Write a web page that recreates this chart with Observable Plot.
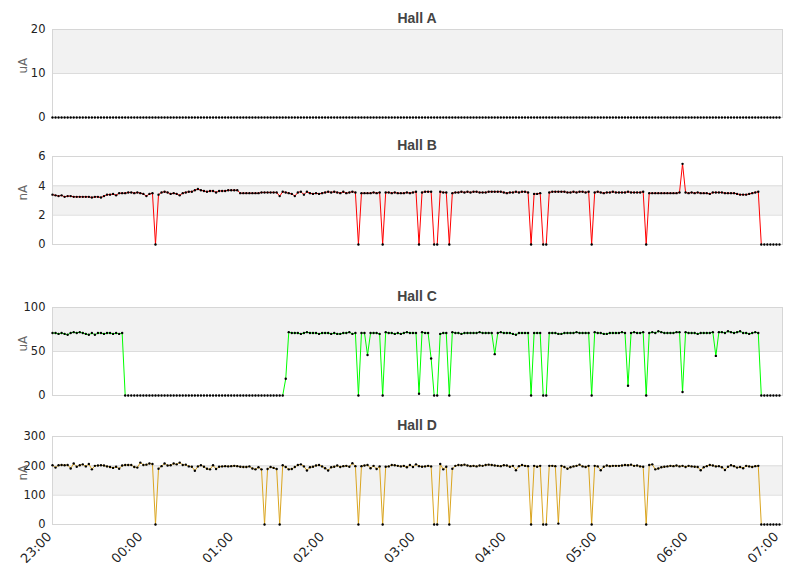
<!DOCTYPE html>
<html>
<head>
<meta charset="utf-8">
<script src="https://cdn.jsdelivr.net/npm/d3@7"></script>
<script src="https://cdn.jsdelivr.net/npm/@observablehq/plot@0.6"></script>
<style>
  body { margin: 0; background: #fff; }
  #chart { position: relative; width: 811px; height: 578px; font-family: "DejaVu Sans", sans-serif; }
  .panel { position: absolute; left: 0; }
  .title { position: absolute; left: 52px; width: 730px; text-align: center; line-height: 16px;
           font: bold 14px "Liberation Sans", Arial, sans-serif; color: #444; z-index: 2; }
</style>
</head>
<body>
<div id="chart"></div>
<script>
// Sampling: one reading every 2 minutes starting 23:00
const startLabel = "23:00";
const stepMinutes = 2;
const xTickLabels = ["23:00","00:00","01:00","02:00","03:00","04:00","05:00","06:00","07:00"];

const panelNames = ["Hall A", "Hall B", "Hall C", "Hall D"];
const panelUnits = ["uA", "nA", "uA", "nA"];
const panelColors = ["#4572a7", "#ff0000", "#00ff00", "#daa520"];
const yTicksA = [0, 10, 20];
const yTicksB = [0, 2, 4, 6];
const yTicksC = [0, 50, 100];
const yTicksD = [0, 100, 200, 300];

const hallA = [
0,0,0,0,0,0,0,0,0,0, 0,0,0,0,0,0,0,0,0,0, 0,0,0,0,0,0,0,0,0,0, 0,0,0,0,0,0,0,0,0,0,
0,0,0,0,0,0,0,0,0,0, 0,0,0,0,0,0,0,0,0,0, 0,0,0,0,0,0,0,0,0,0, 0,0,0,0,0,0,0,0,0,0,
0,0,0,0,0,0,0,0,0,0, 0,0,0,0,0,0,0,0,0,0, 0,0,0,0,0,0,0,0,0,0, 0,0,0,0,0,0,0,0,0,0,
0,0,0,0,0,0,0,0,0,0, 0,0,0,0,0,0,0,0,0,0, 0,0,0,0,0,0,0,0,0,0, 0,0,0,0,0,0,0,0,0,0,
0,0,0,0,0,0,0,0,0,0, 0,0,0,0,0,0,0,0,0,0, 0,0,0,0,0,0,0,0,0,0, 0,0,0,0,0,0,0,0,0,0,
0,0,0,0,0,0,0,0,0,0, 0,0,0,0,0,0,0,0,0,0, 0,0,0,0,0,0,0,0,0,0, 0,0,0,0,0,0,0,0,0,0,
0
];

const hallB = [
3.4,3.35,3.3,3.35,3.25,3.3,3.3,3.25,3.25,3.25,3.25,3.25,3.25,3.2,3.25,3.25,3.2,3.3,3.4,3.4,3.45,3.35,3.5,3.5,3.5,3.55,3.55,3.5,3.55,3.5,3.45,3.3,3.45,3.5,
0,
3.4,3.55,3.6,3.55,3.45,3.5,3.45,3.35,3.5,3.55,
3.6,3.6,3.7,3.78,3.7,3.65,3.6,3.65,3.65,3.55,
3.65,3.65,3.65,3.7,3.7,3.7,3.7,3.5,3.5,3.5,
3.5,3.5,3.5,3.5,3.55,3.55,3.55,3.55,3.55,3.55,
3.3,3.6,3.55,3.5,3.45,3.3,3.55,3.6,3.4,3.6,
3.5,3.45,3.5,3.45,3.5,3.55,3.6,3.55,3.6,3.55,
3.5,3.6,3.5,3.55,3.6,3.55,
0,
3.5,3.5,3.5,3.5,3.55,3.5,3.55,
0,
3.55,3.55,3.5,3.55,3.5,3.5,3.5,3.55,3.5,3.55,3.6,
0,
3.55,3.6,3.6,3.6,
0,0,
3.6,3.55,3.55,
0,
3.5,3.55,3.55,3.6,3.55,3.6,3.55,3.6,3.6,3.55,3.55,3.55,3.6,3.6,3.6,3.6,3.6,3.55,3.5,3.55,3.55,3.6,3.55,3.6,3.6,3.55,
0,
3.45,3.45,3.5,
0,0,
3.55,3.6,3.6,3.6,3.6,3.6,3.55,3.55,3.6,3.55,3.6,3.6,3.55,3.6,
0,
3.55,3.6,3.55,3.5,3.55,3.55,3.6,3.55,3.55,3.55,3.55,3.6,3.55,3.55,3.55,3.55,3.6,
0,
3.5,3.5,3.5,3.5,3.5,3.5,3.5,3.5,3.5,3.5,3.55,
5.5,
3.55,3.5,3.55,3.5,3.55,3.5,3.5,3.5,3.45,3.55,3.55,3.55,3.55,3.5,3.5,3.5,3.5,3.45,3.4,3.4,3.4,3.45,3.5,3.55,3.6,
0,0,0,0,0,0,0
];

const hallC = [
71,71,70,71,70,69,71,72,71,72,71,70,69,71,69,71,71,70,71,71,70,71,70,71,
0,0,0,0,0,0,0,0,0,0, 0,0,0,0,0,0,0,0,0,0, 0,0,0,0,0,0,0,0,0,0, 0,0,0,0,0,0,0,0,0,0, 0,0,0,0,0,0,0,0,0,0, 0,0,0,
19,
72,71,71,71,70,71,72,71,71,71,70,71,71,71,70,71,70,70,71,71,72,70,71,
0,
71,71,46,71,71,71,70,
0,
72,71,71,70,71,70,71,72,71,71,71,
2,
72,71,71,
42,
0,0,
70,71,71,
0,
72,71,71,70,71,71,71,71,71,72,71,71,71,71,47,71,72,71,71,71,70,69,71,71,71,71,
0,
71,71,71,
0,0,
71,71,71,70,70,71,71,71,71,72,71,71,71,71,
0,
72,71,71,70,70,71,71,71,71,72,71,11,71,72,71,71,72,
0,
71,72,71,73,72,71,71,71,71,72,72,
4,
72,71,71,71,70,71,71,71,71,72,45,72,72,71,73,72,71,72,73,71,71,70,71,72,71,
0,0,0,0,0,0,0
];

const hallD = [
202,194,202,203,202,203,191,208,197,202,205,198,206,188,200,201,202,201,198,196,193,197,190,201,203,203,203,196,194,211,203,204,208,206,
0,
190,199,208,201,202,208,205,211,203,204,198,197,183,198,202,197,190,188,202,189,197,198,199,198,199,200,199,197,196,196,198,191,188,195,188,
0,
189,196,193,189,
0,
202,196,188,189,196,203,205,198,184,195,197,201,203,198,192,184,195,197,201,196,199,200,197,209,199,
0,
199,201,203,192,200,189,198,
0,
197,198,203,202,200,198,200,195,203,196,205,199,197,198,200,198,
0,0,
206,188,197,
0,
190,200,203,202,204,201,199,200,198,201,200,203,204,203,201,200,199,202,201,197,200,185,199,203,200,199,
0,
200,197,200,
0,0,
200,200,199,
3,
200,196,190,195,198,200,204,198,196,200,
0,
200,198,185,197,201,199,200,200,200,201,203,202,204,200,201,198,197,
0,
203,205,188,191,195,197,198,200,199,201,198,200,196,200,198,197,196,185,195,199,203,201,198,199,195,186,197,202,199,194,196,192,200,198,196,199,200,
0,0,0,0,0,0,0
];

const seriesValues = [hallA, hallB, hallC, hallD];
const seriesTicks = [yTicksA, yTicksB, yTicksC, yTicksD];
const frameTops = [29, 156, 307, 436];

const t0 = Date.UTC(2000, 0, 1, 23, 0);
const domainEnd = new Date(t0 + 482 * 60000);
const xTickDates = xTickLabels.map((s, k) => new Date(t0 + k * 3600000));
const fmt = d3.utcFormat("%H:%M");

const chart = document.getElementById("chart");
const innerH = 88;

seriesValues.forEach((vals, p) => {
  const ticks = seriesTicks[p];
  const isLast = p === seriesValues.length - 1;
  const mt = 10, mb = isLast ? 54 : 10;
  const data = vals.map((v, i) => ({t: new Date(t0 + i * stepMinutes * 60000), v}));
  const segs = [];
  for (let i = 0; i < data.length - 1; i++) {
    if (!(data[i].v === 0 && data[i + 1].v === 0)) {
      segs.push({t1: data[i].t, v1: data[i].v, t2: data[i + 1].t, v2: data[i + 1].v});
    }
  }
  const bands = [];
  for (let k = 0; k < ticks.length - 1; k++) {
    if (k % 2 === 1) bands.push({lo: ticks[k], hi: ticks[k + 1]});
  }
  const marks = [
    Plot.rect(bands, {x1: () => new Date(t0), x2: () => domainEnd, y1: "lo", y2: "hi", fill: "#f2f2f2"}),
    Plot.ruleY(ticks, {stroke: "#dcdcdc"}),
    Plot.frame({stroke: "#d6d6d6"}),
    Plot.axisY(ticks, {tickSize: 0, tickPadding: 7, fontSize: 11.5, fill: "#222", label: null}),
    Plot.link(segs, {x1: "t1", y1: "v1", x2: "t2", y2: "v2", stroke: panelColors[p], strokeWidth: 1}),
    Plot.dot(data, {x: "t", y: "v", r: 1.2, fill: "#000", stroke: "none"}),
    Plot.text([panelUnits[p]], {frameAnchor: "left", dx: -29, rotate: -90, text: d => d, fill: "#666", fontSize: 12})
  ];
  if (isLast) {
    marks.push(Plot.axisX(xTickDates, {tickSize: 0, tickPadding: 10, dx: -3, tickRotate: -45, fontSize: 13, fill: "#222",
      tickFormat: d => xTickLabels[xTickDates.findIndex(x => +x === +d)] ?? fmt(d), label: null}));
  }
  const svg = Plot.plot({
    width: 811,
    height: mt + innerH + mb,
    marginTop: mt, marginBottom: mb, marginLeft: 52, marginRight: 29,
    style: {fontFamily: "DejaVu Sans, sans-serif", fontSize: "11px", color: "#222", background: "transparent", overflow: "visible"},
    x: {type: "utc", domain: [new Date(t0), domainEnd], axis: null},
    y: {domain: [ticks[0], ticks[ticks.length - 1]], axis: null},
    marks
  });
  svg.classList.add("panel");
  svg.style.top = (frameTops[p] - mt) + "px";
  chart.appendChild(svg);

  const title = document.createElement("div");
  title.className = "title";
  title.textContent = panelNames[p];
  title.style.top = (frameTops[p] - 19) + "px";
  chart.appendChild(title);
});
</script>
</body>
</html>
